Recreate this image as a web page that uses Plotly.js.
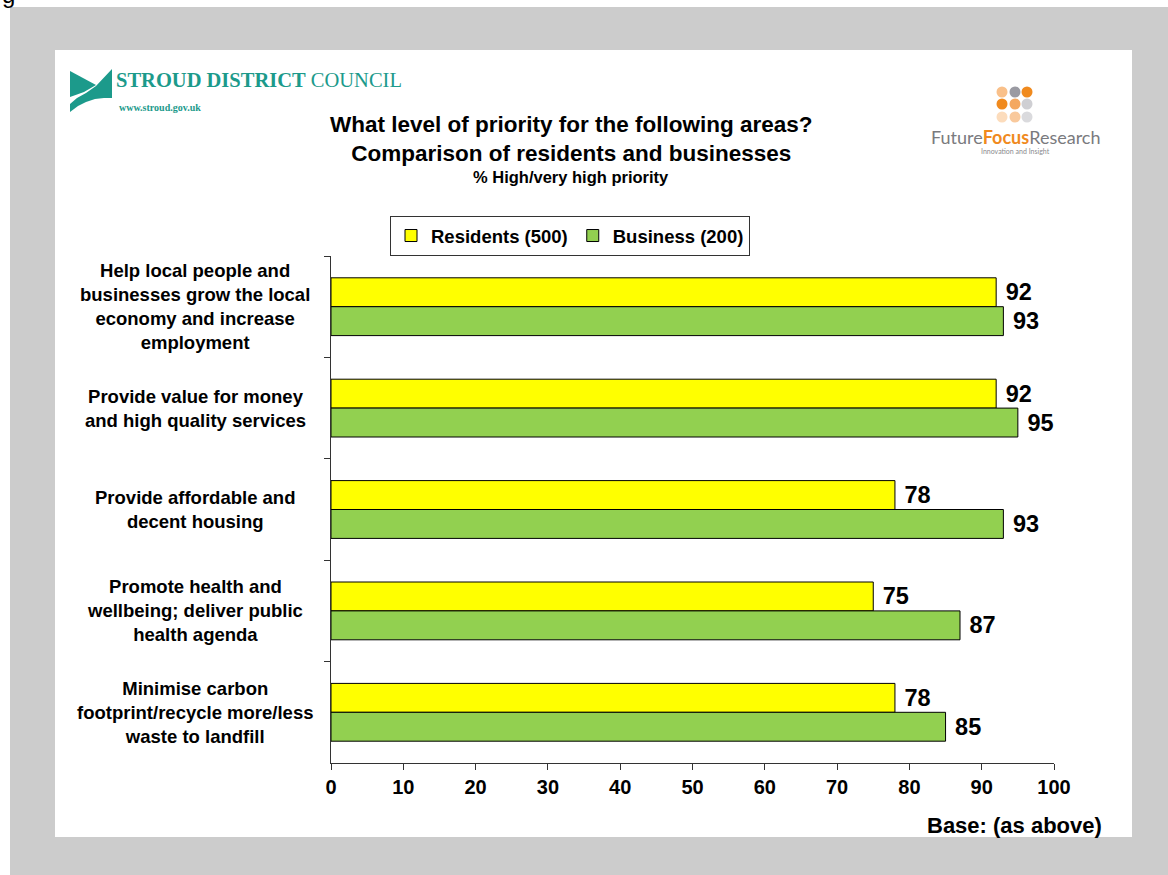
<!DOCTYPE html>
<html><head><meta charset="utf-8">
<script src="https://cdn.plot.ly/plotly-3.0.1.min.js"></script>
<style>html,body{margin:0;padding:0;background:#fff}#chart{width:1168px;height:875px}</style>
</head><body><div id="chart"></div>
<script>
// ---- data ----
const categories = ['economy', 'value', 'housing', 'health', 'carbon'];
const categoryLabels = [
  'Help local people and<br>businesses grow the local<br>economy and increase<br>employment',
  'Provide value for money<br>and high quality services',
  'Provide affordable and<br>decent housing',
  'Promote health and<br>wellbeing; deliver public<br>health agenda',
  'Minimise carbon<br>footprint/recycle more/less<br>waste to landfill'
];
const residents = [92, 92, 78, 75, 78];
const business = [93, 95, 93, 87, 85];
const seriesNames = ['Residents (500)', 'Business (200)'];
const xTickVals = [0, 10, 20, 30, 40, 50, 60, 70, 80, 90, 100];
const titleLines = ['What level of priority for the following areas?', 'Comparison of residents and businesses'];
const subtitle = '% High/very high priority';
const baseNote = 'Base: (as above)';

// ---- layout helpers (pixel -> paper) ----
const W = 1168, H = 875;
const L = 331, R = 1054, T = 256, B = 763;
const px = x => (x - L) / (R - L);
const py = y => (B - y) / (B - T);
const FONT = 'Arial, "Liberation Sans", sans-serif';
const SERIF = '"Times New Roman", "Liberation Serif", serif';
const TEAL = '#1c9a8b';

const traces = [
  {type: 'bar', orientation: 'h', name: seriesNames[0], y: categories, x: residents,
   marker: {color: '#FFFF00', line: {color: '#000', width: 1}},
   texttemplate: '\u00a0%{x}', textposition: 'outside', cliponaxis: false, constraintext: 'none',
   textfont: {family: FONT, size: 23.5, weight: 'bold', color: '#000'}, hoverinfo: 'skip'},
  {type: 'bar', orientation: 'h', name: seriesNames[1], y: categories, x: business,
   marker: {color: '#92D050', line: {color: '#000', width: 1}},
   texttemplate: '\u00a0%{x}', textposition: 'outside', cliponaxis: false, constraintext: 'none',
   textfont: {family: FONT, size: 23.5, weight: 'bold', color: '#000'}, hoverinfo: 'skip'}
];

const annotations = [];
categories.forEach((c, i) => annotations.push({
  xref: 'paper', yref: 'y', x: px(195), y: c, text: categoryLabels[i], showarrow: false,
  xanchor: 'center', yanchor: 'middle', align: 'center',
  font: {family: FONT, size: 18.5, weight: 'bold', color: '#000'}
}));
annotations.push(
  {xref: 'paper', yref: 'paper', x: px(571), y: py(139), text: titleLines.join('<br>'), showarrow: false,
   xanchor: 'center', yanchor: 'middle', align: 'center', font: {family: FONT, size: 22.5, weight: 'bold', color: '#000'}},
  {xref: 'paper', yref: 'paper', x: px(571), y: py(177), text: subtitle, showarrow: false,
   xanchor: 'center', yanchor: 'middle', font: {family: FONT, size: 16.5, weight: 'bold', color: '#000'}},
  {xref: 'paper', yref: 'paper', x: px(1104), y: py(825), text: baseNote, showarrow: false,
   xanchor: 'right', yanchor: 'middle', font: {family: FONT, size: 22, weight: 'bold', color: '#000'}},
  // Stroud logo text
  {xref: 'paper', yref: 'paper', x: px(114), y: py(80), text: '<b>STROUD DISTRICT</b> COUNCIL', showarrow: false,
   xanchor: 'left', yanchor: 'middle', font: {family: SERIF, size: 20.5, color: TEAL}},
  {xref: 'paper', yref: 'paper', x: px(117), y: py(107), text: '<b>www.stroud.gov.uk</b>', showarrow: false,
   xanchor: 'left', yanchor: 'middle', font: {family: SERIF, size: 10, color: TEAL}},
  // Future Focus logo text
  {xref: 'paper', yref: 'paper', x: px(1015), y: py(137),
   text: 'Future<b><span style="color:#f08a1e">Focus</span></b>Research', showarrow: false,
   xanchor: 'center', yanchor: 'middle', font: {family: 'Lato, "Open Sans", sans-serif', size: 18, color: '#7a7a7e'}},
  {xref: 'paper', yref: 'paper', x: px(1015), y: py(151), text: 'Innovation and Insight', showarrow: false,
   xanchor: 'center', yanchor: 'middle', font: {family: 'Lato, "Open Sans", sans-serif', size: 7, color: '#8a8a8e'}},
  // clipped glyph at very top-left
  {xref: 'paper', yref: 'paper', x: px(8), y: py(-6), text: 'g', showarrow: false,
   xanchor: 'center', yanchor: 'middle', font: {family: FONT, size: 24, color: '#000'}}
);

const shapes = [
  {type: 'rect', xref: 'paper', yref: 'paper', x0: px(10), x1: px(1168), y0: py(7), y1: py(875),
   fillcolor: '#cccccc', line: {width: 0}, layer: 'below'},
  {type: 'rect', xref: 'paper', yref: 'paper', x0: px(55), x1: px(1132), y0: py(50), y1: py(837),
   fillcolor: '#ffffff', line: {width: 0}, layer: 'below'}
];
// Stroud swoosh (decorative logo) in pixel-space paths converted to paper
function pathPx(pts) {
  return 'M' + pts.map(p => px(p[0]) + ',' + py(p[1])).join(' L') + ' Z';
}
shapes.push(
  {type: 'path', xref: 'paper', yref: 'paper', path: pathPx([[70,71],[96,85],[84,92],[70,97]]),
   fillcolor: TEAL, line: {width: 0}, layer: 'below'},
  {type: 'path', xref: 'paper', yref: 'paper',
   path: pathPx([[112,69],[112,98],[104,98],[95,99],[86,102],[78,106],[70,112],[70,104],[77,98],[86,93],[96,86]]),
   fillcolor: TEAL, line: {width: 0}, layer: 'below'}
);
// Future Focus dots
const dotColors = [['#f9c08a', '#9a9aa2', '#f08a1e'], ['#f08a1e', '#f4a860', '#cfcfd3'], ['#fcdcbc', '#f9c99c', '#dadadd']];
const dotX = [1002, 1015, 1027], dotY = [92, 104, 117];
dotColors.forEach((row, r) => row.forEach((col, c) => shapes.push({
  type: 'circle', xref: 'paper', yref: 'paper',
  x0: px(dotX[c] - 5.5), x1: px(dotX[c] + 5.5), y0: py(dotY[r] - 5.5), y1: py(dotY[r] + 5.5),
  fillcolor: col, line: {width: 0}, layer: 'below'
})));

const layout = {
  width: W, height: H,
  margin: {l: L, r: W - R, t: T, b: H - B, pad: 0},
  paper_bgcolor: '#ffffff', plot_bgcolor: 'rgba(0,0,0,0)',
  barmode: 'group', bargap: 0.43, bargroupgap: 0,
  showlegend: true,
  legend: {orientation: 'h', x: px(570), xanchor: 'center', y: py(216), yanchor: 'top',
    bgcolor: '#ffffff', bordercolor: '#333', borderwidth: 1, tracegroupgap: 0,
    font: {family: FONT, size: 18.5, weight: 'bold', color: '#000'}, traceorder: 'normal'},
  xaxis: {range: [0, 100], tickvals: xTickVals, ticks: 'outside', ticklen: 6, tickcolor: '#333',
    showline: true, linecolor: '#333', linewidth: 1, showgrid: false, zeroline: false, fixedrange: true,
    tickfont: {family: FONT, size: 20, weight: 'bold', color: '#000'}},
  yaxis: {type: 'category', categoryorder: 'array', categoryarray: categories, autorange: 'reversed',
    showticklabels: false, ticks: 'outside', tickson: 'boundaries', ticklen: 6, tickcolor: '#333',
    showline: true, linecolor: '#333', linewidth: 1, showgrid: false, zeroline: false, fixedrange: true},
  annotations: annotations,
  shapes: shapes
};

Plotly.newPlot('chart', traces, layout, {displayModeBar: false, staticPlot: true});
</script>
</body></html>
